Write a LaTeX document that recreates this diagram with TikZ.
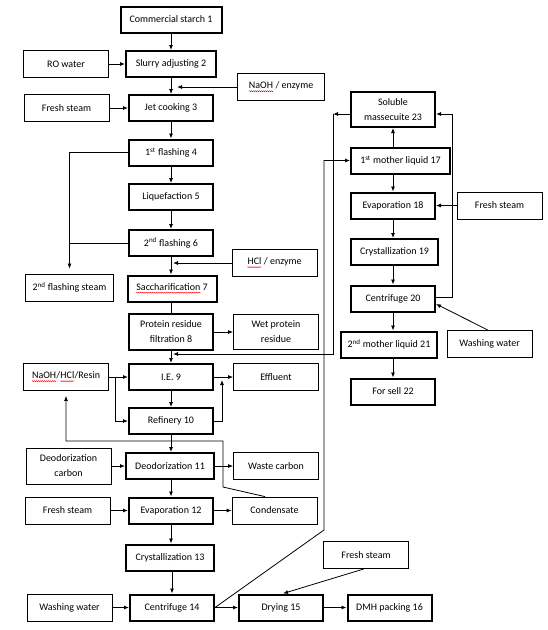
\documentclass[tikz,border=0pt]{standalone}
\usepackage{fontspec}
\setmainfont{Carlito}
\usetikzlibrary{arrows.meta,decorations.pathmorphing}
\newcommand\spellerr[1]{\tikz[baseline=(w.base)]{\node[draw=none,inner sep=0pt,outer sep=0pt,minimum size=0pt] (w) {#1};
  \draw[red,line width=0.4pt,decorate,decoration={zigzag,amplitude=0.6pt,segment length=2pt}]
    ([yshift=-2.2pt]w.base west) -- ([yshift=-2.2pt]w.base east);}}

\begin{document}
\begin{tikzpicture}[x=1pt,y=-1pt,
  font=\fontsize{10}{15}\selectfont,
  >={Latex[length=5pt,width=4pt]},
  proc/.style={draw,line width=2pt,minimum width=84,minimum height=26,inner sep=1pt,align=center},
  feed/.style={draw,line width=0.8pt,minimum width=85,minimum height=27,inner sep=1pt,align=center},
  flow/.style={line width=0.8pt,->},
  link/.style={line width=0.8pt}]
\useasboundingbox (0,0) rectangle (547,630);
%%%%%%%%%%%%%%%%%%%%%%%%%%%%%%%%
%% main line
%%%%%%%%%%%%%%%%%%%%%%%%%%%%%%%%
\node[proc,minimum width=101] (n1) at (171,19.5) {Commercial starch 1};
\node[proc,minimum width=90]  (n2) at (171,64) {Slurry adjusting 2};
\node[proc] (n3) at (171,108) {Jet cooking 3};
\node[proc] (n4) at (171,152.5) {1\textsuperscript{st} flashing 4};
\node[proc] (n5) at (171,197) {Liquefaction 5};
\node[proc] (n6) at (171,243) {2\textsuperscript{nd} flashing 6};
\node[proc,minimum width=89] (n7) at (172,288.5) {\spellerr{Saccharification} 7};
\node[proc,minimum height=36] (n8) at (171,332) {Protein residue\\filtration 8};
\node[proc] (n9)  at (171,377) {I.E. 9};
\node[proc] (n10) at (171,421) {Refinery 10};
\node[proc,minimum width=88] (n11) at (170,466) {Deodorization 11};
\node[proc] (n12) at (171,510.5) {Evaporation 12};
\node[proc,minimum width=88] (n13) at (170,557.5) {Crystallization 13};
\node[proc] (n14) at (172,607.5) {Centrifuge 14};
\node[proc] (n15) at (281,607.5) {Drying 15};
\node[proc] (n16) at (389.5,607.5) {DMH packing 16};
%
% inputs and outputs
\node[feed] (ro)     at (66,64) {RO water};
\node[feed,minimum width=87] (naoh) at (281,87) {\spellerr{NaOH} / enzyme};
\node[feed] (steam3) at (66.5,108) {Fresh steam};
\node[feed,minimum width=88] (flash) at (69.5,287.5) {2\textsuperscript{nd} flashing steam};
\node[feed] (hcl)    at (274.5,263) {\spellerr{HCl} / enzyme};
\node[feed,minimum height=35] (wet) at (276,332) {Wet protein\\residue};
\node[feed] (resin)  at (66,377) {\spellerr{NaOH}/\spellerr{HCl}/Resin};
\node[feed] (effl)   at (276,377) {Effluent};
\node[feed,minimum height=36] (dcarb) at (68.5,466) {Deodorization\\carbon};
\node[feed] (wcarb)  at (276,466) {Waste carbon};
\node[feed] (steam12) at (67.5,510.5) {Fresh steam};
\node[feed] (cond)   at (274.5,510.5) {Condensate};
\node[feed] (wash14) at (69.5,607.5) {Washing water};
\node[feed] (steam15) at (366,555) {Fresh steam};
%
\draw[flow] (n1) -- (n2);
\draw[flow] (ro) -- (n2);
\draw[flow] (n2) -- (n3);
\draw[flow,shorten >=6pt] (naoh.west) -- (naoh.west -| n2.south);
\draw[flow] (steam3) -- (n3);
\draw[flow] (n3) -- (n4);
\draw[flow] (n4) -- (n5);
\draw[flow] (n5) -- (n6);
\draw[flow,shorten >=5pt] (n4.west) -| (flash.north);
\draw[link] (n6.west) -- (n6.west -| flash.north);
\draw[flow] (n6) -- (n7.north -| n6.south);
\draw[flow,shorten >=2pt] (hcl.west) -- (hcl.west -| n6.south);
\draw[link] (n7.south -| n8.north) -- (n8.north);
\draw[flow] (n8) -- (n9);
\draw[flow] (n8) -- (wet);
\draw[flow] (resin) -- (n9);
\coordinate (rsplit) at (115,377);
\draw[flow] (rsplit) |- (n10.west);
\draw[flow] (n9) -- (n10);
\draw[flow] (n9) -- (effl);
\coordinate (eup) at (222,380);
\draw[flow] (n10.east) -| (eup);
\draw[flow] (n10) -- (n11.north -| n10.south);
\draw[flow] (dcarb) -- (n11);
\draw[flow] (n11) -- (wcarb);
\draw[flow] (n11.south -| n12.north) -- (n12.north);
\draw[flow] (steam12) -- (n12);
\draw[flow] (n12) -- (cond);
% condensate back to resin
\coordinate (c1) at (223,487);
\coordinate (c2) at (223,441);
\draw[flow,shorten >=5pt] ([xshift=-9.5pt]cond.north) -- (c1) -- (c2) -| (resin.south);
\draw[flow] (n12) -- (n13.north -| n12.south);
\draw[flow] (n13.south -| n14.north) -- (n14.north);
\draw[flow] (wash14) -- (n14);
\draw[flow] (n14) -- (n15);
\draw[flow] (n15) -- (n16);
\draw[flow] ([xshift=-2pt]steam15.south) -- ([xshift=2pt]n15.north);
%%%%%%%%%%%%%%%%%%%%%%%%%%%%%%%%
%% mother liquid line
%%%%%%%%%%%%%%%%%%%%%%%%%%%%%%%%
\node[proc,minimum height=35] (n23) at (393,109.5) {Soluble\\massecuite 23};
\node[proc,minimum width=99] (n17) at (400.5,160.5) {1\textsuperscript{st} mother liquid 17};
\node[proc] (n18) at (393,205.5) {Evaporation 18};
\node[proc,minimum width=87] (n19) at (394.5,252) {Crystallization 19};
\node[proc] (n20) at (393,298.5) {Centrifuge 20};
\node[proc,minimum width=96] (n21) at (389,344.5) {2\textsuperscript{nd} mother liquid 21};
\node[proc] (n22) at (393,391.5) {For sell 22};
\node[feed] (steam18) at (499.5,205.5) {Fresh steam};
\node[feed] (wash20)  at (489.5,344) {Washing water};
%
\draw[flow] (n17.north -| n23) -- (n23.south);
\draw[flow] (n17.south -| n18) -- (n18.north);
\draw[flow] (n18) -- (n18.south |- n19.north);
\draw[flow] (n19.south -| n20) -- (n20.north);
\draw[flow] (n20) -- (n20.south |- n21.north);
\draw[flow] (n21.south -| n22) -- (n22.north);
\draw[flow] (steam18) -- (n18);
\draw[flow] ([xshift=-1.5pt]wash20.north) -- ([yshift=-5.5pt]n20.east);
\coordinate (s1) at (452,114);
\draw[flow] ([yshift=1.5pt]n20.east) -| (s1) -- ([yshift=-4.5pt]n23.east);
% centrifuge 14 to 1st mother liquid
\coordinate (m1) at (324,530);
\draw[flow] (n14.east) -- (m1) |- (n17.west);
% soluble massecuite back to I.E.
\coordinate (r1) at (333,114);
\coordinate (r2) at (333,354);
\draw[flow] ([yshift=-4.5pt]n23.west) -- (r1);
\draw[flow,shorten >=2pt] (r1) -- (r2) -- (r2 -| n8.south);
\end{tikzpicture}
\end{document}
